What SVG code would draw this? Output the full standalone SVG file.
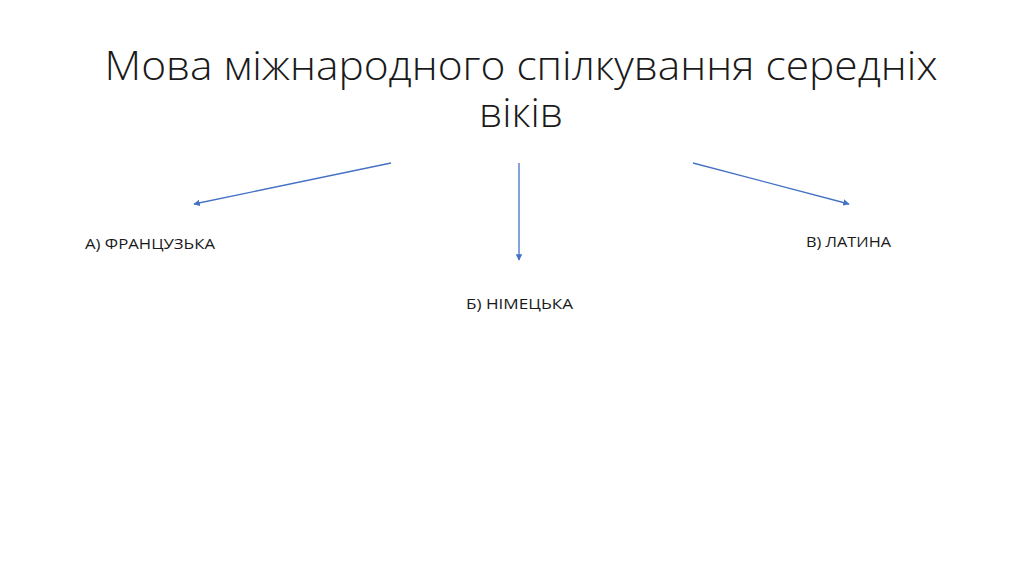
<svg xmlns="http://www.w3.org/2000/svg" width="1024" height="574" viewBox="0 0 1024 574">
<style>
.title{font-family:"Open Sans","Liberation Sans",sans-serif;font-size:40px;font-weight:300;fill:#1a1a1a;text-anchor:middle}
.lbl{font-family:"Open Sans","Liberation Sans",sans-serif;font-size:15px;fill:#1a1a1a}
.con{stroke:#4472C4;stroke-width:1.3;fill:none;marker-end:url(#ah)}
</style>
<defs>
<marker id="ah" viewBox="0 0 10 10" refX="9" refY="5" markerWidth="5" markerHeight="5" orient="auto" markerUnits="strokeWidth">
<path d="M0,0 L10,5 L0,10 z" fill="#4472C4"/>
</marker>
</defs>
<rect width="1024" height="574" fill="#ffffff"/>
<g id="title">
<text class="title"><tspan x="521" y="80" textLength="833" lengthAdjust="spacingAndGlyphs">Мова міжнародного спілкування середніх</tspan><tspan x="521" y="127" textLength="84" lengthAdjust="spacingAndGlyphs">віків</tspan></text>
</g>
<g id="connectors">
<line class="con" x1="391" y1="163" x2="194" y2="204"/>
<line class="con" x1="519" y1="163" x2="519" y2="260"/>
<line class="con" x1="693" y1="163" x2="849" y2="204"/>
</g>
<g id="node-a"><text class="lbl" x="85" y="249" textLength="130" lengthAdjust="spacingAndGlyphs">А) ФРАНЦУЗЬКА</text></g>
<g id="node-b"><text class="lbl" x="466" y="309" textLength="107" lengthAdjust="spacingAndGlyphs">Б) НІМЕЦЬКА</text></g>
<g id="node-c"><text class="lbl" x="806" y="247" textLength="85" lengthAdjust="spacingAndGlyphs">В) ЛАТИНА</text></g>
</svg>
